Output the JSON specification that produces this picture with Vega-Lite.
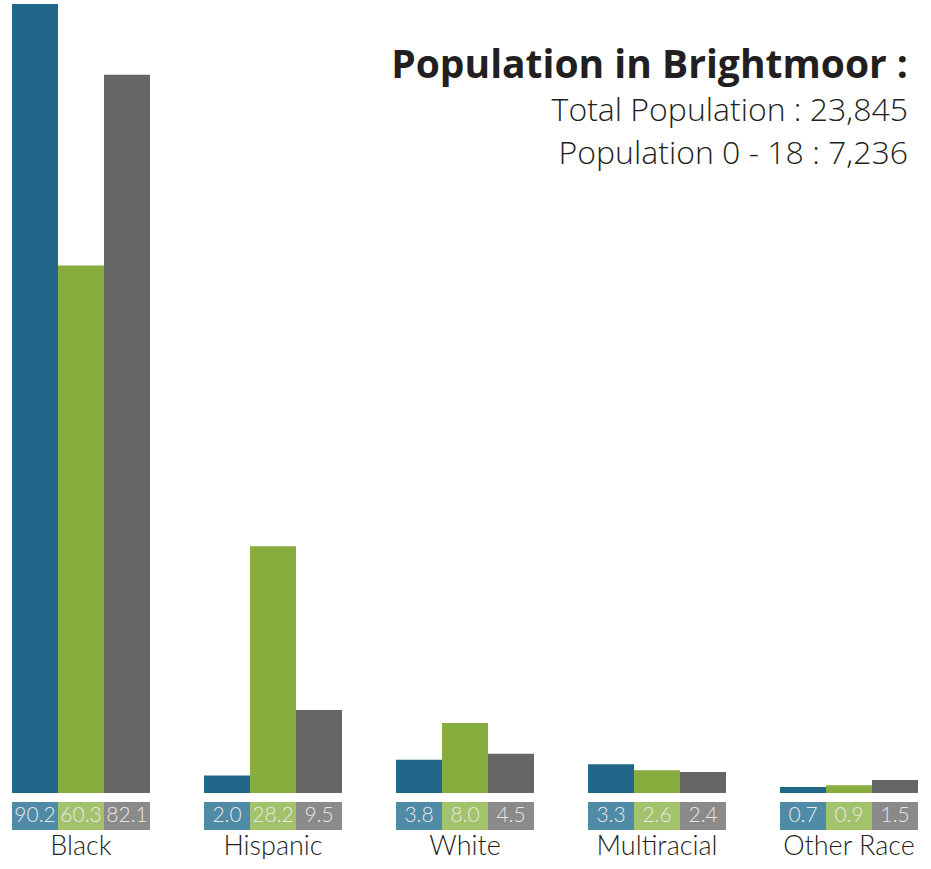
{
  "$schema": "https://vega.github.io/schema/vega-lite/v6.json",
  "padding": 0,
  "background": "white",
  "config": {"view": {"stroke": null}, "font": "Lato"},
  "data": {"values": [
    {"race": "Black", "series": "Brightmoor", "value": 90.2},
    {"race": "Black", "series": "Brightmoor 0-18", "value": 60.3},
    {"race": "Black", "series": "Detroit", "value": 82.1},
    {"race": "Hispanic", "series": "Brightmoor", "value": 2.0},
    {"race": "Hispanic", "series": "Brightmoor 0-18", "value": 28.2},
    {"race": "Hispanic", "series": "Detroit", "value": 9.5},
    {"race": "White", "series": "Brightmoor", "value": 3.8},
    {"race": "White", "series": "Brightmoor 0-18", "value": 8.0},
    {"race": "White", "series": "Detroit", "value": 4.5},
    {"race": "Multiracial", "series": "Brightmoor", "value": 3.3},
    {"race": "Multiracial", "series": "Brightmoor 0-18", "value": 2.6},
    {"race": "Multiracial", "series": "Detroit", "value": 2.4},
    {"race": "Other Race", "series": "Brightmoor", "value": 0.7},
    {"race": "Other Race", "series": "Brightmoor 0-18", "value": 0.9},
    {"race": "Other Race", "series": "Detroit", "value": 1.5}
  ]},
  "spacing": 9,
  "resolve": {"scale": {"color": "independent"}},
  "vconcat": [
    {
      "width": 930,
      "height": 793,
      "title": {
        "text": "Population in Brightmoor :",
        "subtitle": ["Total Population : 23,845", "Population 0 - 18 : 7,236"],
        "anchor": "end",
        "orient": "top",
        "offset": -170,
        "dx": -22,
        "font": "Open Sans",
        "fontSize": 39,
        "fontWeight": "bold",
        "color": "#231f20",
        "subtitleFont": "Open Sans",
        "subtitleFontSize": 32,
        "subtitleFontWeight": 300,
        "subtitleColor": "#231f20",
        "subtitlePadding": 10,
        "subtitleLineHeight": 43
      },
      "mark": {"type": "bar"},
      "encoding": {
        "x": {"field": "race", "type": "nominal", "sort": ["Black", "Hispanic", "White", "Multiracial", "Other Race"],
              "scale": {"paddingInner": 0.28125, "paddingOuter": 0.0625}, "axis": null},
        "xOffset": {"field": "series", "type": "nominal", "sort": ["Brightmoor", "Brightmoor 0-18", "Detroit"], "scale": {"paddingInner": 0, "paddingOuter": 0}},
        "y": {"field": "value", "type": "quantitative", "scale": {"domain": [0, 90.65], "nice": false}, "axis": null},
        "color": {"field": "series", "type": "nominal", "legend": null,
                  "scale": {"domain": ["Brightmoor", "Brightmoor 0-18", "Detroit"], "range": ["#21678a", "#87ad3f", "#666665"]}}
      }
    },
    {
      "width": 930,
      "height": 28,
      "encoding": {
        "x": {"field": "race", "type": "nominal", "sort": ["Black", "Hispanic", "White", "Multiracial", "Other Race"],
              "scale": {"paddingInner": 0.28125, "paddingOuter": 0.0625},
              "axis": {"title": null, "orient": "bottom", "domain": false, "ticks": false, "labelAngle": 0,
                       "labelFont": "Lato", "labelFontSize": 27, "labelFontWeight": 300, "labelColor": "#231f20", "labelPadding": 3}},
        "xOffset": {"field": "series", "type": "nominal", "sort": ["Brightmoor", "Brightmoor 0-18", "Detroit"], "scale": {"paddingInner": 0, "paddingOuter": 0}}
      },
      "layer": [
        {
          "mark": {"type": "bar"},
          "encoding": {
            "color": {"field": "series", "type": "nominal", "legend": null,
                      "scale": {"domain": ["Brightmoor", "Brightmoor 0-18", "Detroit"], "range": ["#4f8ba7", "#a3c26c", "#8a8a8a"]}}
          }
        },
        {
          "mark": {"type": "text", "font": "Lato", "fontSize": 21, "fontWeight": 300, "color": "#e6e6e6", "baseline": "middle"},
          "encoding": {
            "text": {"field": "value", "type": "quantitative", "format": ".1f"}
          }
        }
      ]
    }
  ]
}
